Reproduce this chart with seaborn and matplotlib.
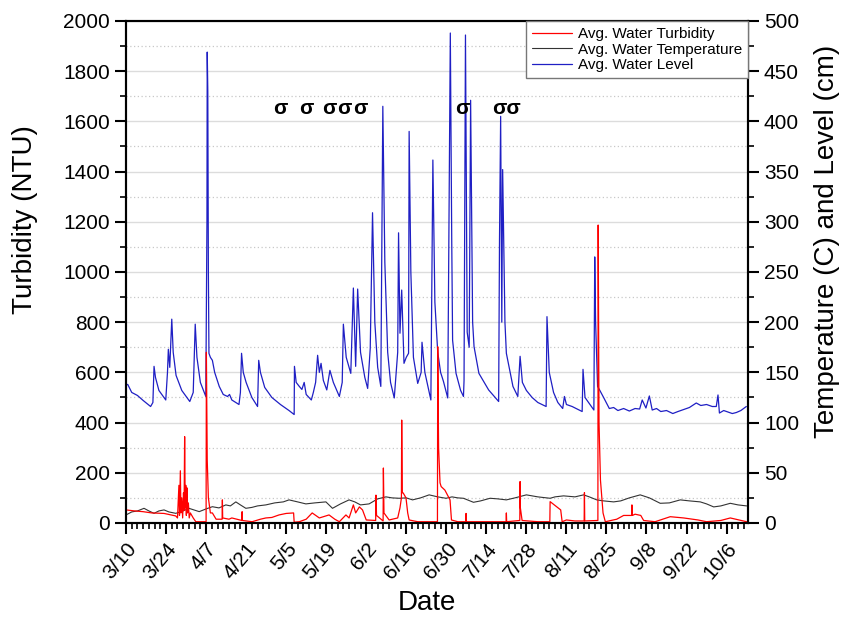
import matplotlib
matplotlib.use("Agg")
import matplotlib.pyplot as plt
import seaborn as sns
import pandas as pd
from matplotlib.ticker import MultipleLocator

# ---------------- data (x = days after 3/10) ----------------
level_day = [0, 0.6, 2, 4, 6, 8.6, 9.4, 9.8, 10.3, 11.5, 13.9, 14.5, 14.8, 15.3, 16.0, 16.5, 17.5, 19.5,
             22.3, 23.5, 24.2, 24.8, 26, 27.9, 28.3, 28.4, 28.6, 28.8, 29.0, 29.5, 30.2, 31, 32.6, 34,
             35.5, 36.2, 37, 39.5, 40.0, 40.4, 41, 42, 44, 46, 46.4, 47, 48.5, 51, 54, 57, 58.8, 58.9,
             59.5, 60.6, 61.5, 62.3, 63, 64.8, 65.5, 66.3, 67.0, 67.6, 68.2, 69, 70.2, 71.3, 72.5, 74.6,
             75.6, 76.0, 77, 78.6, 79.5, 80.3, 81.0, 82, 83.5, 84.5, 85.4, 86.2, 87, 88, 89.1, 89.8, 90.5,
             91.5, 92.5, 93.8, 95.0, 95.3, 95.8, 96.4, 97.2, 98, 98.8, 99.0, 99.6, 100.5, 102, 103.2,
             103.5, 104.5, 106.6, 107.3, 108, 109, 110, 111, 112.5, 113.4, 113.9, 114.2, 115.4, 117, 118,
             118.2, 118.7, 119.3, 120, 120.5, 121.2, 121.7, 123.4, 126.8, 130.3, 130.6, 131, 131.4, 131.7,
             132.5, 133, 135.3, 137, 137.8, 138.6, 140, 142, 144, 146.9, 147.2, 148, 149.5, 151, 152.7,
             153.3, 154, 156, 159.5, 159.8, 160.5, 163.6, 163.9, 164.2, 164.9, 165.6, 167, 169, 170.5,
             172, 174, 176, 178, 179.6, 180.5, 181.8, 183, 184, 185.5, 187, 189, 191.2, 193, 195, 197,
             199.4, 201, 203, 205, 206.4, 207, 207.5, 209, 210, 212, 213.4, 215, 216.9]
level_cm = [137.5, 138, 130, 127, 122, 116, 120, 156, 145, 132, 122.5, 150, 173, 155, 203, 170, 147, 132,
            121, 130, 198, 165, 140, 126, 300, 469, 430, 250, 169, 165, 162, 150, 136, 128,
            126, 128, 122.5, 118, 130, 169, 150, 140, 125, 116, 162, 150, 135, 125, 118, 112, 108, 156,
            140, 136, 133, 140, 128, 122.5, 130, 140, 167, 150, 159, 142, 132.5, 152, 140, 126,
            140, 198, 165, 149, 234, 156, 233, 170, 145, 134, 174, 309, 200, 155, 136, 415, 260,
            170, 140, 124.5, 170, 289, 189, 232, 159, 165, 169, 390, 250, 165, 139, 150,
            180, 150, 122.5, 361.5, 220, 170, 150, 141, 124.5, 488, 280, 182, 149, 132, 126,
            142, 486, 190, 175, 421, 200, 175.6, 149, 132.5, 121, 282, 405, 200, 352,
            200, 169, 136, 126, 166, 140, 132, 125, 120, 116, 205.5, 150, 130, 120, 114,
            126, 118, 116, 111, 153, 125, 112.5, 265, 200, 136, 132.5, 125, 114, 115,
            112, 114, 111.5, 114, 113.5, 122.5, 114.5, 126.5, 112.5, 114, 111, 112, 109, 111, 113, 115,
            119.5, 117, 118, 116, 116, 127.5, 109.5, 112, 111, 109, 110, 112, 116]

temp_day = [0, 2, 4, 6.3, 8, 9.8, 11.5, 13.3, 15, 17.4, 20, 22, 25.6, 28, 30.2, 32.5, 34.9, 36.5, 38.4,
            40, 41.9, 44, 46, 48.9, 52, 55, 57, 60, 62.9, 66, 69.9, 72.2, 75, 78, 80, 82, 85, 88, 90.9,
            93, 95.5, 98, 100.2, 103, 106, 109, 111.9, 114, 116, 118, 121.5, 124, 127.3, 130, 133, 136,
            140, 144, 148.3, 150, 153, 157, 160, 162, 164.6, 167, 170.5, 173, 176, 179.8, 183, 186.8,
            190, 193.8, 197, 200.8, 203, 205.5, 208, 211.3, 214, 217]
temp_c = [8, 11, 12, 14.6, 12, 9.6, 12, 13, 11, 9.6, 12, 14.6, 11.3, 14, 16.2, 15, 18, 17, 21,
          18, 14.6, 15.5, 17, 18, 20, 21, 23, 21, 19, 20, 21, 14.6, 19, 23, 21, 18, 19, 24, 26,
          25, 24.6, 25, 23, 25, 28, 26, 24.6, 26, 25, 24.6, 20.6, 22, 24.6, 24, 23, 25,
          28, 26, 24.6, 26, 27, 26, 28, 26, 23, 22, 21, 22, 25, 28, 25, 19.6,
          20, 23, 22, 21, 19, 16, 17, 19.6, 18, 17]

turb_day = [0, 3, 6, 9, 13.3, 17.4, 18.0, 18.3, 18.5, 18.7, 19.0, 19.2, 19.5, 19.8, 20.1, 20.3, 20.5,
            20.7, 20.9, 21.1, 21.3, 21.5, 21.8, 22.1, 22.5, 23.5, 24.4, 28.0, 28.1, 28.4, 28.8, 29.5,
            30.2, 31.5, 33.6, 33.7, 33.8, 36, 37, 40.5, 40.6, 40.7, 44.1, 47, 48.9, 51, 53.5, 56, 58.6,
            58.8, 60.6, 63, 65.1, 67.6, 69, 71, 73, 74.6, 76.9, 78, 79.5, 80.3, 81.6, 82.7, 84, 87.3,
            87.4, 87.6, 89.9, 90.0, 90.2, 92, 95, 95.8, 96.3, 96.4, 96.6, 96.9, 97.9, 98.5, 99, 102,
            108.9, 109.0, 109.3, 109.8, 110.2, 111.5, 113.3, 113.8, 116, 118.8, 118.9, 119.0, 127,
            132.9, 133.0, 133.1, 137.7, 137.8, 137.9, 138.5, 144, 148.2, 148.3, 150, 152, 152.5, 154,
            157, 160.2, 160.3, 160.4, 165.0, 165.1, 165.4, 165.9, 166.8, 167.6, 171.6, 174, 176.8,
            176.9, 177.1, 178, 180, 181, 185, 190.3, 195, 200, 203, 208, 211.3, 215, 217]
turb_ntu = [52, 48, 45, 40, 38, 28, 20, 100, 150, 30, 208, 40, 100, 20, 120, 50, 344,
            60, 150, 30, 140, 40, 80, 20, 40, 20, 5, 5, 680, 250, 100, 40,
            40, 15, 15, 92, 20, 15, 20, 10, 45, 10, 5, 15, 20, 22, 32, 38, 40,
            3, 5, 15, 40, 20, 25, 32, 15, 5, 32, 20, 72, 40, 64, 52, 12, 10,
            111, 30, 8, 219, 40, 12, 20, 60, 100, 410, 120, 120, 100, 40, 12, 5,
            5, 702, 300, 160, 145, 131, 92, 12, 5, 5, 38, 5, 5,
            5, 40, 5, 10, 165, 60, 10, 5, 5, 85, 70, 52, 5, 12,
            8, 8, 121, 8, 10, 1187, 400, 171, 40, 5, 15, 30, 30,
            72, 30, 35, 30, 10, 5, 25, 20, 12, 5, 10, 20, 10, 5]

tick_days = [0, 14, 28, 42, 56, 70, 84, 98, 112, 126, 140, 154, 168, 182, 196, 210]
tick_labels = ["3/10", "3/24", "4/7", "4/21", "5/5", "5/19", "6/2", "6/16", "6/30",
               "7/14", "7/28", "8/11", "8/25", "9/8", "9/22", "10/6"]
sigma_days = [54.1, 62.9, 71.1, 76.5, 82.1, 117.7, 133.2]
sigma_texts = ["σ", "σ", "σ", "σ", "σ", "σ", "σσ"]
sigma_level = 1650

# ---------------- style ----------------
sns.set_style("ticks")
plt.rcParams['font.family'] = ['Liberation Sans', 'DejaVu Sans']
plt.rcParams['text.color'] = 'black'
plt.rcParams['axes.labelcolor'] = 'black'

fig = plt.figure(figsize=(8.48, 6.24), dpi=100)
ax = fig.add_axes([0.1486, 0.1619, 0.7335, 0.8045])
ax2 = ax.twinx()
ax.set_zorder(2)
ax2.set_zorder(1)
ax.patch.set_visible(False)

df_level = pd.DataFrame({"day": level_day, "val": level_cm})
df_temp = pd.DataFrame({"day": temp_day, "val": temp_c})
df_turb = pd.DataFrame({"day": turb_day, "val": turb_ntu})

sns.lineplot(data=df_level, x="day", y="val", ax=ax2, color="#1f1fc4", linewidth=0.9,
             estimator=None, label="Avg. Water Level")
sns.lineplot(data=df_temp, x="day", y="val", ax=ax2, color="#333333", linewidth=0.8,
             estimator=None, label="Avg. Water Temperature")
sns.lineplot(data=df_turb, x="day", y="val", ax=ax, color="#ff0000", linewidth=0.9,
             estimator=None, label="Avg. Water Turbidity")
for a in (ax, ax2):
    if a.get_legend() is not None:
        a.get_legend().remove()

ax.set_xlim(0, 217.5)
ax.set_ylim(0, 2000)
ax2.set_ylim(0, 500)

ax.yaxis.set_major_locator(MultipleLocator(200))
ax.yaxis.set_minor_locator(MultipleLocator(100))
ax2.yaxis.set_major_locator(MultipleLocator(50))
ax2.yaxis.set_minor_locator(MultipleLocator(25))
ax.set_xticks(tick_days)
ax.xaxis.set_minor_locator(MultipleLocator(2))
ax.set_xticklabels(tick_labels, rotation=50, ha="right", rotation_mode="anchor")

for a in (ax, ax2):
    a.tick_params(which="major", direction="out", length=8, width=1.5, labelsize=15, colors="black")
    a.tick_params(which="minor", direction="out", length=4, width=1.2, colors="black")
    for s in a.spines.values():
        s.set_visible(True)
        s.set_linewidth(1.5)
        s.set_color("black")
ax.tick_params(axis="x", which="both", top=False, pad=4)
ax.tick_params(axis="y", which="both", right=False)
ax2.tick_params(axis="y", which="both", left=False, right=True)

ax2.grid(which="major", axis="y", color="#dcdcdc", linewidth=1.0, linestyle="-")
ax2.grid(which="minor", axis="y", color="#c8c8c8", linewidth=0.9, linestyle=(0, (1, 2)))
ax2.set_axisbelow(True)

ax.set_xlabel("Date", fontsize=20, color="black")
ax.set_ylabel("Turbidity (NTU)", fontsize=20, color="black")
ax2.set_ylabel("Temperature (C) and Level (cm)", fontsize=20, color="black")
ax.xaxis.set_label_coords(0.484, -0.133)
ax.yaxis.set_label_coords(-0.142, 0.605)
ax2.yaxis.set_label_coords(1.106, 0.56)

for d, t in zip(sigma_days, sigma_texts):
    ax.text(d, sigma_level, t, fontsize=15, fontweight="bold", ha="center", va="center", color="black")

h1, l1 = ax.get_legend_handles_labels()
h2, l2 = ax2.get_legend_handles_labels()
handles = h1 + h2[::-1]
labels = l1 + l2[::-1]
leg = ax.legend(handles, labels, loc="upper right", bbox_to_anchor=(1.0, 1.0), fontsize=11,
                frameon=True, fancybox=False, edgecolor="#777777", framealpha=1, borderaxespad=0,
                labelspacing=0.1, handlelength=2.6, handletextpad=0.4, borderpad=0.4)
leg.get_frame().set_linewidth(1.0)
for t in leg.get_texts():
    t.set_color("black")

fig.savefig("out.png", dpi=100, facecolor="white")
